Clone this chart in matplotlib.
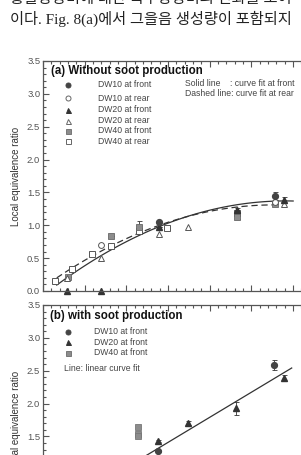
import numpy as np
import matplotlib
matplotlib.use("Agg")
import matplotlib.pyplot as plt
from matplotlib.ticker import MultipleLocator

plt.rcParams['font.family'] = ['Liberation Sans', 'DejaVu Sans']

# korean body text above the figure (scanned page)
line1 = "총괄당량비에 대한 국부당량비의 변화를 보여"
line2 = "이다. Fig. 8(a)에서 그을음 생성량이 포함되지"

# panel (a) : without soot production
a10f_x = [0.558, 1.113]
a10f_y = [1.055, 1.45]
a10f_e = [0.0, 0.06]
a10r_x = [0.28, 1.113]
a10r_y = [0.70, 1.36]
a20f_x = [0.114, 0.28, 0.558, 0.929, 1.156]
a20f_y = [0.0, 0.0, 0.98, 1.23, 1.385]
a20f_e = [0.0, 0.0, 0.0, 0.04, 0.04]
a20r_x = [0.114, 0.28, 0.558, 0.697, 1.156]
a20r_y = [0.20, 0.50, 0.87, 0.98, 1.32]
a40f_x = [0.12, 0.326, 0.462, 0.929, 1.113]
a40f_y = [0.22, 0.83, 0.98, 1.12, 1.32]
a40f_e = [0.0, 0.0, 0.08, 0.03, 0.0]
a40r_x = [0.058, 0.138, 0.234, 0.326, 0.462, 0.596, 0.929]
a40r_y = [0.157, 0.335, 0.57, 0.685, 0.92, 0.96, 1.19]

# quadratic curve fits (c0, c1, c2)
fit_front = [-0.068, 2.471, -1.061]
fit_front_range = [0.066, 1.2]
fit_rear = [0.055, 2.263, -1.020]
fit_rear_range = [0.066, 1.12]

# panel (b) : with soot production
b10f_x = [0.553, 1.11]
b10f_y = [1.28, 2.59]
b10f_e = [0.02, 0.08]
b20f_x = [0.553, 0.694, 0.924, 1.156]
b20f_y = [1.43, 1.71, 1.93, 2.39]
b20f_e = [0.02, 0.03, 0.10, 0.05]
b40f_x = [0.457, 0.457, 0.457]
b40f_y = [1.65, 1.54, 1.50]
lin_fit = [0.265, 1.908]
lin_range = [0.3, 1.193]

dark = '#333333'
gray = '#8c8c8c'
txtc = '#444444'

fig = plt.figure(figsize=(3.01, 4.55), dpi=100)

kfam = ['Liberation Serif', 'Noto Sans CJK KR']
fig.text(10/301, 1 + 1/455, line1, family=kfam, fontsize=11, color='#222222', va='center', ha='left')
fig.text(10/301, 1 - 19/455, line2, family=kfam, fontsize=11, color='#222222', va='center', ha='left')


def style_axes(ax):
    ax.set_xlim(0, 1.3)
    ax.set_ylim(0, 3.5)
    ax.xaxis.set_major_locator(MultipleLocator(0.2))
    ax.xaxis.set_minor_locator(MultipleLocator(0.04))
    ax.yaxis.set_major_locator(MultipleLocator(0.5))
    ax.yaxis.set_minor_locator(MultipleLocator(0.1))
    ax.tick_params(which='both', direction='in', top=True, right=True, colors='#555555',
                   labelsize=6.8, labelcolor='#555555', pad=2, width=0.8)
    ax.tick_params(which='major', length=4.5)
    ax.tick_params(which='minor', length=2.2)
    ax.set_xticklabels([])
    ax.yaxis.set_major_formatter(matplotlib.ticker.FormatStrFormatter('%.1f'))
    for s in ax.spines.values():
        s.set_color('#555555')
        s.set_linewidth(0.9)
    ax.set_ylabel('Local equivalence ratio', fontsize=7, color='#333333', labelpad=4)


ms = 4.2
axh = 230/455
ax1 = fig.add_axes([43/301, (455-291)/455, 271/301, axh])
style_axes(ax1)

xf = np.linspace(fit_front_range[0], fit_front_range[1], 100)
ax1.plot(xf, np.polyval(fit_front[::-1], xf), '-', color=dark, lw=0.9)
xr = np.linspace(fit_rear_range[0], fit_rear_range[1], 100)
ax1.plot(xr, np.polyval(fit_rear[::-1], xr), '--', color=dark, lw=0.9, dashes=(5, 3))

eb = dict(ecolor=dark, elinewidth=0.6, capsize=1.8, capthick=0.6, linestyle='none')
ax1.errorbar(a40r_x, a40r_y, fmt='s', ms=ms, mfc='white', mec='#555555', mew=0.7, **eb)
ax1.errorbar(a40f_x, a40f_y, yerr=a40f_e, fmt='s', ms=ms, mfc=gray, mec='#666666', mew=0.6, **eb)
ax1.errorbar(a20r_x, a20r_y, fmt='^', ms=ms, mfc='white', mec='#555555', mew=0.7, **eb)
ax1.errorbar(a10r_x, a10r_y, fmt='o', ms=ms, mfc='white', mec='#555555', mew=0.7, **eb)
ax1.errorbar(a20f_x, a20f_y, yerr=a20f_e, fmt='^', ms=ms, mfc=dark, mec=dark, clip_on=False, **eb)
ax1.errorbar(a10f_x, a10f_y, yerr=a10f_e, fmt='o', ms=ms, mfc='#444444', mec='#444444', **eb)

ax1.text(0.04, 3.35, '(a) Without soot production', fontsize=8.3, fontweight='bold', color='#111111', va='center')
leg_a = [('o', '#444444', '#444444', 'DW10 at front'),
         ('o', 'white', '#666666', 'DW10 at rear'),
         ('^', dark, dark, 'DW20 at front'),
         ('^', 'white', '#666666', 'DW20 at rear'),
         ('s', gray, '#777777', 'DW40 at front'),
         ('s', 'white', '#666666', 'DW40 at rear')]
rows_a = [3.14, 2.93, 2.76, 2.59, 2.44, 2.28]
for (m, fc, ec, lab), yy in zip(leg_a, rows_a):
    ax1.plot([0.12], [yy], m, ms=3.6, mfc=fc, mec=ec, mew=0.7)
    ax1.text(0.262, yy, lab, fontsize=6.2, color=txtc, va='center')
ax1.text(0.683, 3.16, 'Solid line    : curve fit at front', fontsize=6.2, color=txtc, va='center')
ax1.text(0.683, 3.0, 'Dashed line: curve fit at rear', fontsize=6.2, color=txtc, va='center')

ax2 = fig.add_axes([43/301, (455-305)/455 - axh, 271/301, axh])
style_axes(ax2)
xl = np.linspace(lin_range[0], lin_range[1], 50)
ax2.plot(xl, lin_fit[0] + lin_fit[1]*xl, '-', color=dark, lw=0.9)
ax2.errorbar(b40f_x, b40f_y, fmt='s', ms=ms, mfc=gray, mec='#777777', mew=0.6, **eb)
ax2.errorbar(b20f_x, b20f_y, yerr=b20f_e, fmt='^', ms=ms, mfc=dark, mec=dark, **eb)
ax2.errorbar(b10f_x, b10f_y, yerr=b10f_e, fmt='o', ms=ms, mfc='#444444', mec='#444444', **eb)

ax2.text(0.035, 3.33, '(b) with soot production', fontsize=8.3, fontweight='bold', color='#111111', va='center')
leg_b = [('o', '#444444', '#444444', 'DW10 at front'),
         ('^', dark, dark, 'DW20 at front'),
         ('s', gray, '#777777', 'DW40 at front')]
rows_b = [3.09, 2.93, 2.77]
for (m, fc, ec, lab), yy in zip(leg_b, rows_b):
    ax2.plot([0.12], [yy], m, ms=3.6, mfc=fc, mec=ec, mew=0.7)
    ax2.text(0.245, yy, lab, fontsize=6.2, color=txtc, va='center')
ax2.text(0.1, 2.54, 'Line: linear curve fit', fontsize=6.2, color=txtc, va='center')

fig.savefig('out.png', dpi=100)
